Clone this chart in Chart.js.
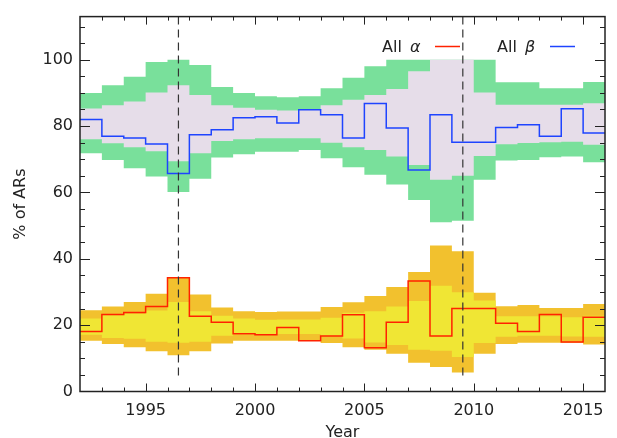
<!DOCTYPE html>
<html>
<head>
<meta charset="utf-8">
<script src="https://cdn.jsdelivr.net/npm/chart.js@4.4.1/dist/chart.umd.min.js"></script>
<style>
  html, body { margin: 0; padding: 0; background: #fff; overflow: hidden; }
  canvas { display: block; }
</style>
</head>
<body>
<canvas id="chart" width="617" height="438"></canvas>
<script>
// one bin per year, each bin runs from year to year + 1
var years = [1992, 1993, 1994, 1995, 1996, 1997, 1998, 1999, 2000, 2001, 2002, 2003,
             2004, 2005, 2006, 2007, 2008, 2009, 2010, 2011, 2012, 2013, 2014, 2015];
var endYear = 2016;

// All alpha (%), with inner and outer uncertainty bands
var alphaAll     = [18.1, 23.2, 23.8, 25.6, 34.3, 22.7, 20.9, 17.4, 17.1, 19.3, 15.3, 16.7,
                    23.1, 13.2, 20.9, 33.3, 16.7, 25.0, 25.0, 20.6, 18.1, 23.2, 14.9, 22.4];
var alphaInnerHi = [22.0, 23.0, 23.4, 24.4, 27.0, 24.2, 22.8, 22.0, 21.6, 21.7, 21.7, 22.2,
                    23.7, 24.2, 25.6, 27.3, 31.9, 29.9, 27.4, 22.7, 22.7, 22.7, 22.4, 22.8];
var alphaInnerLo = [17.1, 16.1, 15.9, 15.0, 14.7, 15.0, 16.8, 17.1, 17.1, 17.3, 17.3, 16.6,
                    16.0, 14.8, 14.0, 12.6, 12.3, 10.4, 14.6, 16.5, 16.8, 16.8, 16.6, 16.5];
var alphaOuterHi = [24.5, 25.6, 27.0, 29.5, 34.2, 29.2, 25.3, 24.2, 24.0, 24.1, 24.1, 25.5,
                    26.9, 28.8, 31.5, 36.0, 44.0, 42.3, 29.8, 25.7, 26.1, 25.2, 25.2, 26.4];
var alphaOuterLo = [15.3, 14.3, 13.3, 12.1, 10.9, 12.1, 14.5, 15.3, 15.3, 15.3, 15.3, 14.6,
                    13.3, 12.6, 11.4, 8.7, 7.4, 5.7, 11.4, 14.3, 14.7, 14.7, 14.7, 14.2];

// All beta (%), with inner and outer uncertainty bands
var betaAll      = [82.0, 76.9, 76.4, 74.6, 65.7, 77.4, 78.9, 82.5, 82.8, 80.9, 84.9, 83.4,
                    76.4, 86.8, 79.4, 66.8, 83.4, 75.1, 75.1, 79.6, 80.4, 76.9, 85.2, 77.9];
var betaInnerHi  = [85.3, 86.3, 87.4, 90.1, 92.3, 89.4, 86.3, 85.5, 84.9, 84.7, 84.9, 86.3,
                    87.9, 89.4, 91.2, 96.5, 100, 100, 90.1, 86.4, 86.4, 86.4, 86.4, 86.9];
var betaInnerLo  = [76.0, 74.8, 73.6, 72.4, 69.4, 71.8, 75.5, 76.0, 76.3, 76.3, 76.3, 75.0,
                    73.6, 72.8, 70.8, 68.3, 63.8, 65.0, 71.0, 74.5, 74.9, 75.1, 75.3, 74.4];
var betaOuterHi  = [90.0, 92.3, 94.9, 99.3, 100, 98.4, 91.8, 90.0, 89.0, 88.7, 89.0, 91.4,
                    94.6, 98.0, 100, 100, 100, 100, 100, 93.2, 93.2, 91.4, 91.4, 93.3];
var betaOuterLo  = [71.8, 69.8, 67.3, 64.8, 60.1, 64.1, 70.5, 71.5, 72.3, 72.3, 72.8, 70.3,
                    67.6, 65.3, 62.4, 57.7, 51.0, 51.5, 63.8, 69.6, 69.8, 70.6, 70.8, 69.1];

// dashed markers (solar minima) and their vertical extent
var minimaYears = [1996.5, 2009.5];
var minimaSpan = [113, 4.4];

var xTicks = [1995, 2000, 2005, 2010, 2015];
var yTicks = [0, 20, 40, 60, 80, 100];

var FONT = 'DejaVu Sans';
var INK = '#222';

function steps(vals) {
    var pts = years.map(function (yr, i) { return {x: yr, y: vals[i]}; });
    pts.push({x: endYear, y: vals[vals.length - 1]});
    return pts;
}

// 'before' in Chart.js keeps the previous value up to the next point
function band(vals, color, fillTo) {
    return {
        data: steps(vals), stepped: 'before', pointRadius: 0,
        borderWidth: 0, borderColor: 'rgba(0,0,0,0)',
        backgroundColor: color, fill: fillTo
    };
}

function stepLine(vals, color) {
    return {
        data: steps(vals), stepped: 'before', pointRadius: 0,
        borderWidth: 1.5, borderColor: color, fill: false
    };
}

var datasets = minimaYears.map(function (yr) {
    return {
        data: minimaSpan.map(function (v) { return {x: yr, y: v}; }),
        borderColor: '#333', borderWidth: 1.2, borderDash: [8, 5],
        pointRadius: 0, fill: false
    };
});
datasets.push(stepLine(betaAll, '#1e44ff'));
datasets.push(stepLine(alphaAll, '#ff2200'));
datasets.push(band(betaInnerHi, '#e6dde9', '+1'));
datasets.push(band(betaInnerLo, 'rgba(0,0,0,0)', false));
datasets.push(band(alphaInnerHi, '#f0e634', '+1'));
datasets.push(band(alphaInnerLo, 'rgba(0,0,0,0)', false));
datasets.push(band(betaOuterHi, '#79e09b', '+1'));
datasets.push(band(betaOuterLo, 'rgba(0,0,0,0)', false));
datasets.push(band(alphaOuterHi, '#f2c12e', '+1'));
datasets.push(band(alphaOuterLo, 'rgba(0,0,0,0)', false));

// box round the plot, with inward ticks on all four sides
var frameTicks = {
    id: 'frameTicks',
    afterDatasetsDraw: function (chart) {
        var ctx = chart.ctx, a = chart.chartArea;
        var xs = chart.scales.x, ys = chart.scales.y;
        ctx.save();
        ctx.strokeStyle = INK;
        ctx.lineWidth = 1;
        ctx.beginPath();
        for (var yr = xs.min + 1; yr < xs.max; yr++) {
            var xl = xTicks.indexOf(yr) >= 0 ? 8 : 4;
            var px = Math.round(xs.getPixelForValue(yr)) + 0.5;
            ctx.moveTo(px, a.bottom); ctx.lineTo(px, a.bottom - xl);
            ctx.moveTo(px, a.top); ctx.lineTo(px, a.top + xl);
        }
        for (var v = 5; v < ys.max; v += 5) {
            var yl = yTicks.indexOf(v) >= 0 ? 10 : 5;
            var py = Math.round(ys.getPixelForValue(v)) + 0.5;
            ctx.moveTo(a.left, py); ctx.lineTo(a.left + yl, py);
            ctx.moveTo(a.right, py); ctx.lineTo(a.right - yl, py);
        }
        ctx.stroke();
        ctx.lineWidth = 1.5;
        ctx.strokeRect(a.left, a.top, a.right - a.left, a.bottom - a.top);
        ctx.restore();
    }
};

// legend: "All α ——   All β ——"
var stepLegend = {
    id: 'stepLegend',
    afterDraw: function (chart) {
        var ctx = chart.ctx;
        var items = [
            {greek: 'α', color: '#ff2200', x: 382},
            {greek: 'β', color: '#1e44ff', x: 497}
        ];
        ctx.save();
        ctx.fillStyle = INK;
        ctx.textBaseline = 'alphabetic';
        items.forEach(function (it) {
            ctx.font = '16px "' + FONT + '"';
            ctx.fillText('All', it.x, 52);
            ctx.font = 'italic 16px "' + FONT + '"';
            ctx.fillText(it.greek, it.x + 28, 52);
            ctx.strokeStyle = it.color;
            ctx.lineWidth = 1.5;
            ctx.beginPath();
            ctx.moveTo(it.x + 53, 46.5);
            ctx.lineTo(it.x + 78, 46.5);
            ctx.stroke();
        });
        ctx.restore();
    }
};

Chart.defaults.font.family = FONT;
Chart.defaults.font.size = 16;
Chart.defaults.color = INK;

new Chart(document.getElementById('chart'), {
    type: 'line',
    data: {datasets: datasets},
    options: {
        responsive: false,
        devicePixelRatio: 1,
        animation: false,
        layout: {padding: {top: 11, right: 12, bottom: 0, left: 0}},
        plugins: {
            legend: {display: false},
            tooltip: {enabled: false}
        },
        scales: {
            x: {
                type: 'linear', min: 1992, max: endYear,
                afterBuildTicks: function (s) { s.ticks = xTicks.map(function (v) { return {value: v}; }); },
                afterFit: function (s) { s.height = 46.5; },
                grid: {display: false, drawTicks: false},
                border: {display: false},
                ticks: {padding: 10, maxRotation: 0, callback: function (v) { return String(v); }},
                title: {display: true, text: 'Year', padding: 0, font: {size: 16, lineHeight: 0.625}}
            },
            y: {
                type: 'linear', min: 0, max: 113,
                afterBuildTicks: function (s) { s.ticks = yTicks.map(function (v) { return {value: v}; }); },
                afterFit: function (s) { s.width = 80; },
                grid: {display: false, drawTicks: false},
                border: {display: false},
                ticks: {padding: 7, callback: function (v) { return String(v); }},
                title: {display: true, text: '% of ARs', padding: {top: 11, bottom: 0}}
            }
        }
    },
    plugins: [frameTicks, stepLegend]
});
</script>
</body>
</html>
